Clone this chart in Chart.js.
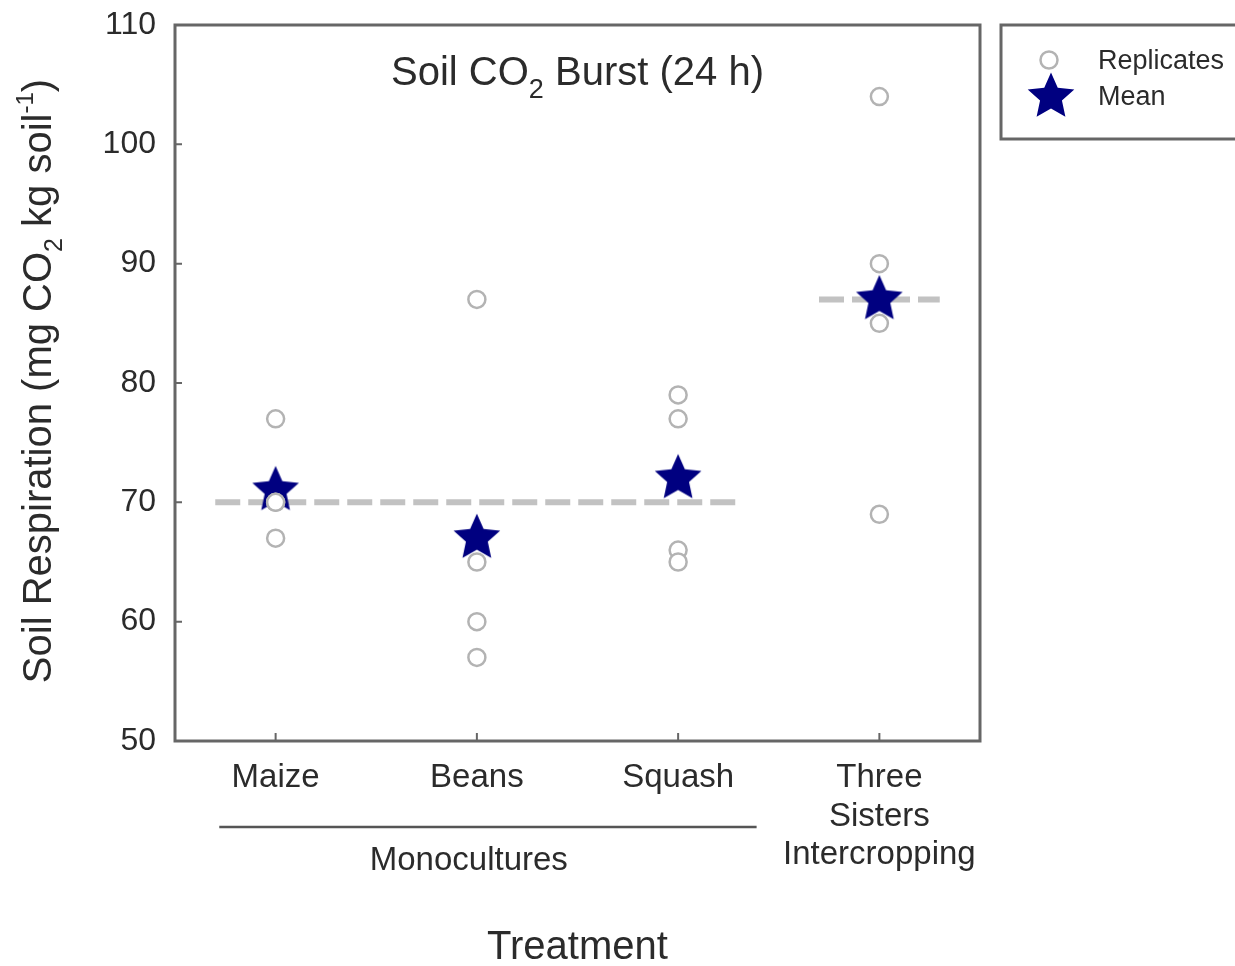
<!DOCTYPE html>
<html>
<head>
<meta charset="utf-8">
<script src="https://cdn.jsdelivr.net/npm/chart.js@4/dist/chart.umd.min.js"></script>
<style>
  html, body { margin: 0; padding: 0; background: #fff; }
  canvas { display: block; }
</style>
</head>
<body>
<canvas id="burst-chart" width="1235" height="966"></canvas>
<script>
// data
const categories = ['Maize', 'Beans', 'Squash', 'Three Sisters Intercropping'];
const tickLabels = [['Maize'], ['Beans'], ['Squash'], ['Three', 'Sisters', 'Intercropping']];
const maizeReps = [77, 70, 70, 67];
const beansReps = [87, 65, 60, 57];
const squashReps = [79, 77, 66, 65];
const threeSistersReps = [104, 90, 85, 69];
const treatmentMeans = [71, 67, 72, 87];
const groupNames = ['Monocultures', 'Intercropping'];
const groupFirst = [1, 4];
const groupLast = [3, 4];
const groupMeans = [70, 87];
const yMin = 50, yMax = 110, yStep = 10;

const FONT = "'Liberation Sans', Arial, sans-serif";
const TEXT = '#2b2b2b';
const FRAME = '#666';

// filled 5 point star used as point style for the means
const starImg = document.createElement('canvas');
starImg.width = 52;
starImg.height = 52;
const sctx = starImg.getContext('2d');
sctx.fillStyle = '#000080';
sctx.beginPath();
for (let k = 0; k < 10; k++) {
    const r = k % 2 ? 11.5 : 24.5;
    const a = -Math.PI / 2 + k * Math.PI / 5;
    sctx.lineTo(26 + r * Math.cos(a), 26 + r * Math.sin(a));
}
sctx.closePath();
sctx.fill();

const allReps = [maizeReps, beansReps, squashReps, threeSistersReps];
const repPoints = allReps.flatMap((vals, i) => vals.map(v => ({ x: i + 1, y: v })));
const meanPoints = treatmentMeans.map((v, i) => ({ x: i + 1, y: v }));

const pad = 0.3;
const groupLines = groupMeans.map((m, g) => ({
    type: 'line',
    label: groupNames[g],
    data: [{ x: groupFirst[g] - pad, y: m }, { x: groupLast[g] + pad, y: m }],
    borderColor: '#c2c2c2',
    borderWidth: 6,
    borderDash: [25, 8],
    pointRadius: 0,
    showLine: true,
    order: 3,
    inLegend: false
}));

// draws text with sub/superscripts, centred on x
function drawRich(ctx, parts, x, y) {
    let total = 0;
    parts.forEach(p => {
        ctx.font = p.size + 'px ' + FONT;
        p.w = ctx.measureText(p.t).width;
        total += p.w;
    });
    let cx = x - total / 2;
    ctx.textAlign = 'left';
    ctx.textBaseline = 'alphabetic';
    parts.forEach(p => {
        ctx.font = p.size + 'px ' + FONT;
        ctx.fillText(p.t, cx, y + (p.dy || 0));
        cx += p.w;
    });
}

const decorations = {
    id: 'decorations',
    afterDraw(chart) {
        const ctx = chart.ctx;
        const area = chart.chartArea;
        const xs = chart.scales.x;
        const ys = chart.scales.y;
        ctx.save();

        // frame
        ctx.strokeStyle = FRAME;
        ctx.lineWidth = 3;
        ctx.strokeRect(area.left, area.top, area.right - area.left, area.bottom - area.top);

        // inward ticks
        ctx.lineWidth = 2;
        ctx.beginPath();
        for (let v = yMin + yStep; v < yMax; v += yStep) {
            const py = ys.getPixelForValue(v);
            ctx.moveTo(area.left, py);
            ctx.lineTo(area.left + 7, py);
        }
        categories.forEach((c, i) => {
            const px = xs.getPixelForValue(i + 1);
            ctx.moveTo(px, area.bottom);
            ctx.lineTo(px, area.bottom - 8);
        });
        ctx.stroke();

        ctx.fillStyle = TEXT;

        // title
        drawRich(ctx, [
            { t: 'Soil CO', size: 40 },
            { t: '2', size: 27, dy: 13 },
            { t: ' Burst (24 h)', size: 40 }
        ], (area.left + area.right) / 2, 85);

        // y axis title
        ctx.save();
        ctx.translate(51, 381);
        ctx.rotate(-Math.PI / 2);
        drawRich(ctx, [
            { t: 'Soil Respiration (mg CO', size: 40 },
            { t: '2', size: 25, dy: 11 },
            { t: ' kg soil', size: 40 },
            { t: '-1', size: 24, dy: -18 },
            { t: ')', size: 40 }
        ], 0, 0);
        ctx.restore();

        // monocultures bracket line and label
        ctx.strokeStyle = '#555';
        ctx.lineWidth = 2.5;
        ctx.beginPath();
        ctx.moveTo(xs.getPixelForValue(0.72), 827);
        ctx.lineTo(xs.getPixelForValue(3.39), 827);
        ctx.stroke();
        ctx.font = '33px ' + FONT;
        ctx.textAlign = 'center';
        ctx.textBaseline = 'middle';
        ctx.fillText(groupNames[0], xs.getPixelForValue(1.96), 861);

        // x axis title
        ctx.font = '40px ' + FONT;
        ctx.fillText('Treatment', (area.left + area.right) / 2, 948);

        // legend box
        ctx.strokeStyle = FRAME;
        ctx.lineWidth = 3;
        ctx.strokeRect(1001, 25, 260, 114);
        const items = chart.data.datasets.filter(d => d.inLegend);
        items.forEach((d, k) => {
            const cy = 61 + k * 36;
            if (d.pointStyle === 'circle') {
                ctx.beginPath();
                ctx.arc(1049, cy - 1, d.pointRadius, 0, Math.PI * 2);
                ctx.fillStyle = d.backgroundColor;
                ctx.fill();
                ctx.strokeStyle = d.borderColor;
                ctx.lineWidth = d.borderWidth;
                ctx.stroke();
            } else {
                ctx.drawImage(d.pointStyle, 1051 - 26, cy - 26);
            }
            ctx.fillStyle = TEXT;
            ctx.font = '27px ' + FONT;
            ctx.textAlign = 'left';
            ctx.textBaseline = 'middle';
            ctx.fillText(d.label, 1098, cy + 1);
        });

        ctx.restore();
    }
};

new Chart(document.getElementById('burst-chart').getContext('2d'), {
    type: 'scatter',
    data: {
        datasets: [
            {
                label: 'Replicates',
                data: repPoints,
                pointStyle: 'circle',
                pointRadius: 8.5,
                borderWidth: 2.5,
                borderColor: '#b3b3b3',
                backgroundColor: '#ffffff',
                order: 1,
                inLegend: true
            },
            {
                label: 'Mean',
                data: meanPoints,
                pointStyle: starImg,
                pointRadius: 20,
                order: 2,
                inLegend: true
            },
            ...groupLines
        ]
    },
    options: {
        responsive: false,
        animation: false,
        events: [],
        layout: { padding: { top: 25, right: 255, left: 0, bottom: 0 } },
        plugins: {
            legend: { display: false },
            tooltip: { enabled: false }
        },
        scales: {
            x: {
                type: 'linear',
                min: 0.5,
                max: categories.length + 0.5,
                grid: { display: false, drawTicks: false },
                border: { display: false },
                afterBuildTicks: scale => {
                    scale.ticks = categories.map((c, i) => ({ value: i + 1 }));
                },
                afterFit: scale => { scale.height = 225; },
                ticks: {
                    autoSkip: false,
                    maxRotation: 0,
                    padding: 17,
                    color: TEXT,
                    font: { family: FONT, size: 33, lineHeight: 1.18 },
                    callback: v => tickLabels[v - 1]
                }
            },
            y: {
                min: yMin,
                max: yMax,
                grid: { display: false, drawTicks: false },
                border: { display: false },
                afterFit: scale => { scale.width = 175; },
                ticks: {
                    stepSize: yStep,
                    padding: 19,
                    color: TEXT,
                    font: { family: FONT, size: 32, lineHeight: 0.3 }
                }
            }
        }
    },
    plugins: [decorations]
});
</script>
</body>
</html>
